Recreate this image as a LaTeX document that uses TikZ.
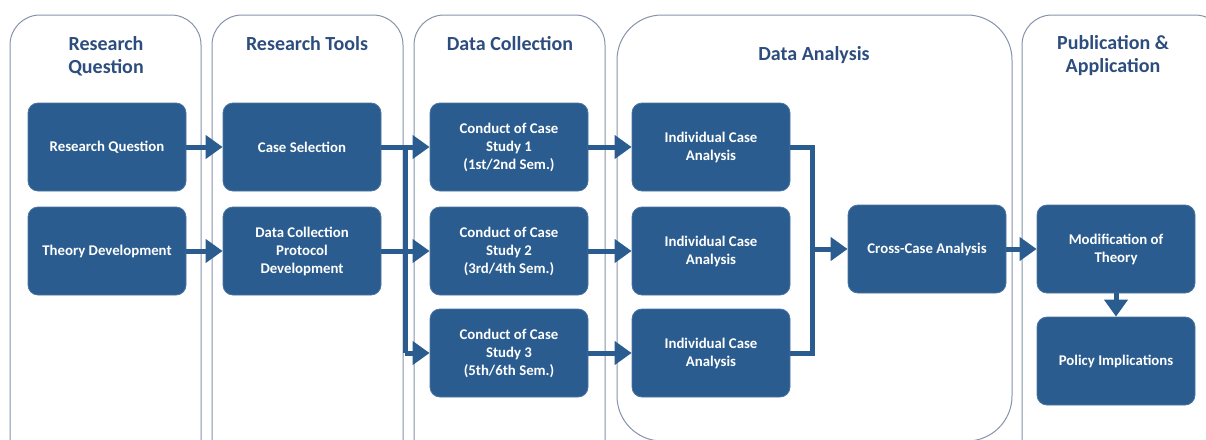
\documentclass[tikz,border=0pt]{standalone}
\usepackage{fontspec}
\setmainfont{Carlito}
\usetikzlibrary{arrows.meta}
\definecolor{boxblue}{HTML}{2A5C8F}
\definecolor{titleblue}{HTML}{2C4D7D}
\definecolor{laneline}{HTML}{8493AB}
\tikzset{
  lane/.style={draw=laneline, line width=1pt},
  lanetitle/.style={text=titleblue, font=\bfseries\fontsize{20}{23}\selectfont, align=center},
  stage/.style={fill=boxblue, draw=boxblue!85!white, line width=0.8pt, rounded corners=10pt,
    minimum width=158pt, minimum height=88pt, text=white, align=center,
    font=\bfseries\fontsize{14.8}{18}\selectfont},
  flow/.style={draw=boxblue, line width=5pt},
  flowarrow/.style={flow, -{Triangle[length=17pt,width=23pt]}}
}
\begin{document}
\begin{tikzpicture}[x=1pt,y=-1pt]
\useasboundingbox (0,0) rectangle (1206,439);
\clip (0,0) rectangle (1206,439);

% phase lanes
\draw[lane, rounded corners=30pt] (10,15) rectangle (201,470);
\draw[lane, rounded corners=30pt] (212,15) rectangle (403,470);
\draw[lane, rounded corners=30pt] (414,15) rectangle (605,470);
\draw[lane, rounded corners=45pt] (617,15) rectangle (1012,441);
\draw[lane, rounded corners=30pt] (1022,15) rectangle (1225,470);

% lane titles
\node[lanetitle] (t1) at (106,56) {Research\\Question};
\node[lanetitle] (t2) at (307,44) {Research Tools};
\node[lanetitle] (t3) at (510,44) {Data Collection};
\node[lanetitle] (t4) at (814,55) {Data Analysis};
\node[lanetitle] (t5) at (1113,56) {Publication \&\\Application};

% stages
\node[stage] (rq) at (107,147) {Research Question};
\node[stage] (td) at (107,251) {Theory Development};
\node[stage] (cs) at (302,147) {Case Selection};
\node[stage] (dc) at (302,251) {Data Collection\\Protocol\\Development};
\node[stage] (c1) at (509,147) {Conduct of Case\\Study 1\\(1st/2nd Sem.)};
\node[stage] (c2) at (509,251) {Conduct of Case\\Study 2\\(3rd/4th Sem.)};
\node[stage] (c3) at (509,353) {Conduct of Case\\Study 3\\(5th/6th Sem.)};
\node[stage] (i1) at (711,147) {Individual Case\\Analysis};
\node[stage] (i2) at (711,251) {Individual Case\\Analysis};
\node[stage] (i3) at (711,353) {Individual Case\\Analysis};
\node[stage] (cc) at (927,249) {Cross-Case Analysis};
\node[stage] (mt) at (1116,249) {Modification of\\Theory};
\node[stage] (pi) at (1116,361) {Policy Implications};

% junction points
\coordinate (busA) at (405,147);
\coordinate (busB) at (405,353);
\coordinate (joinA) at (812,147);
\coordinate (joinB) at (812,353);
\coordinate (joinM) at (812,249);

% connectors
\draw[flowarrow] (rq) -- (cs);
\draw[flowarrow] (td) -- (dc);
\draw[flow] (busA) -- (busB);
\draw[flowarrow] (cs.east) -- (c1.west);
\draw[flowarrow] (dc.east) -- (c2.west);
\draw[flowarrow] (busB) -- (c3.west);
\draw[flowarrow] (c1) -- (i1);
\draw[flowarrow] (c2) -- (i2);
\draw[flowarrow] (c3) -- (i3);
\draw[flow] (i1.east) -- (joinA) -- (joinB) -- (i3.east);
\draw[flowarrow] (joinM) -- (cc.west);
\draw[flowarrow] (cc) -- (mt);
\draw[flowarrow] (mt) -- (pi);
\end{tikzpicture}
\end{document}
